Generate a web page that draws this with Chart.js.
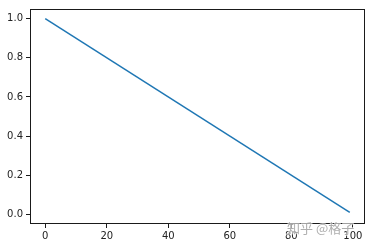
<!DOCTYPE html>
<html>
<head>
<meta charset="utf-8">
<script src="https://cdn.jsdelivr.net/npm/chart.js@4"></script>
<style>
html,body{margin:0;padding:0;background:#fff;}
#wrap{width:372px;height:248px;position:relative;}
</style>
</head>
<body>
<div id="wrap"><canvas id="c" width="372" height="248"></canvas></div>
<script>
const xValues = [0, 99];
const yValues = [1.0, 0.01];
const xTickValues = [0, 20, 40, 60, 80, 100];
const xTickLabels = ["0", "20", "40", "60", "80", "100"];
const yTickValues = [0.0, 0.2, 0.4, 0.6, 0.8, 1.0];
const yTickLabels = ["0.0", "0.2", "0.4", "0.6", "0.8", "1.0"];
const watermark = "知乎 @格子";

const points = xValues.map((x, i) => ({x: x, y: yValues[i]}));

const framePlugin = {
  id: 'frame',
  afterDraw(chart) {
    const a = chart.chartArea, ctx = chart.ctx;
    ctx.save();
    ctx.strokeStyle = '#1a1a1a';
    ctx.lineWidth = 1;
    ctx.strokeRect(Math.round(a.left) + 0.5, Math.round(a.top) + 0.5,
                   Math.round(a.right - a.left) - 1, Math.round(a.bottom - a.top) - 1);
    ctx.font = '13px "Noto Sans CJK SC"';
    ctx.textBaseline = 'middle';
    ctx.lineWidth = 2;
    ctx.strokeStyle = 'rgba(255,255,255,0.6)';
    ctx.strokeText(watermark, 287, 228.5);
    ctx.fillStyle = 'rgba(160,160,160,0.85)';
    ctx.fillText(watermark, 287, 228.5);
    ctx.restore();
  }
};

const tickFont = {family: '"DejaVu Sans"', size: 10};

new Chart(document.getElementById('c'), {
  type: 'line',
  data: {
    datasets: [{
      data: points,
      borderColor: '#1f77b4',
      borderWidth: 1.5,
      pointRadius: 0,
      fill: false,
      tension: 0
    }]
  },
  options: {
    responsive: false,
    animation: false,
    events: [],
    layout: {padding: {top: 6, right: 7, left: 0, bottom: 0}},
    plugins: {legend: {display: false}, tooltip: {enabled: false}},
    scales: {
      x: {
        type: 'linear',
        min: -4.95,
        max: 103.95,
        afterBuildTicks(s) { s.ticks = xTickValues.map(v => ({value: v})); },
        afterFit(s) { s.height = 24; },
        grid: {drawOnChartArea: false, drawTicks: true, tickLength: 4, color: '#1a1a1a', tickWidth: 1},
        border: {display: false},
        ticks: {
          font: tickFont, color: '#222', padding: 2, maxRotation: 0, autoSkip: false,
          callback: (v) => { const i = xTickValues.indexOf(v); return i >= 0 ? xTickLabels[i] : ''; }
        }
      },
      y: {
        type: 'linear',
        min: -0.0495,
        max: 1.0495,
        afterBuildTicks(s) { s.ticks = yTickValues.map(v => ({value: v})); },
        afterFit(s) { s.width = 30; },
        grid: {drawOnChartArea: false, drawTicks: true, tickLength: 4, color: '#1a1a1a', tickWidth: 1},
        border: {display: false},
        ticks: {
          font: tickFont, color: '#222', padding: 3, autoSkip: false,
          callback: (v) => { const i = yTickValues.findIndex(t => Math.abs(t - v) < 1e-9); return i >= 0 ? yTickLabels[i] : ''; }
        }
      }
    }
  },
  plugins: [framePlugin]
});
</script>
</body>
</html>
